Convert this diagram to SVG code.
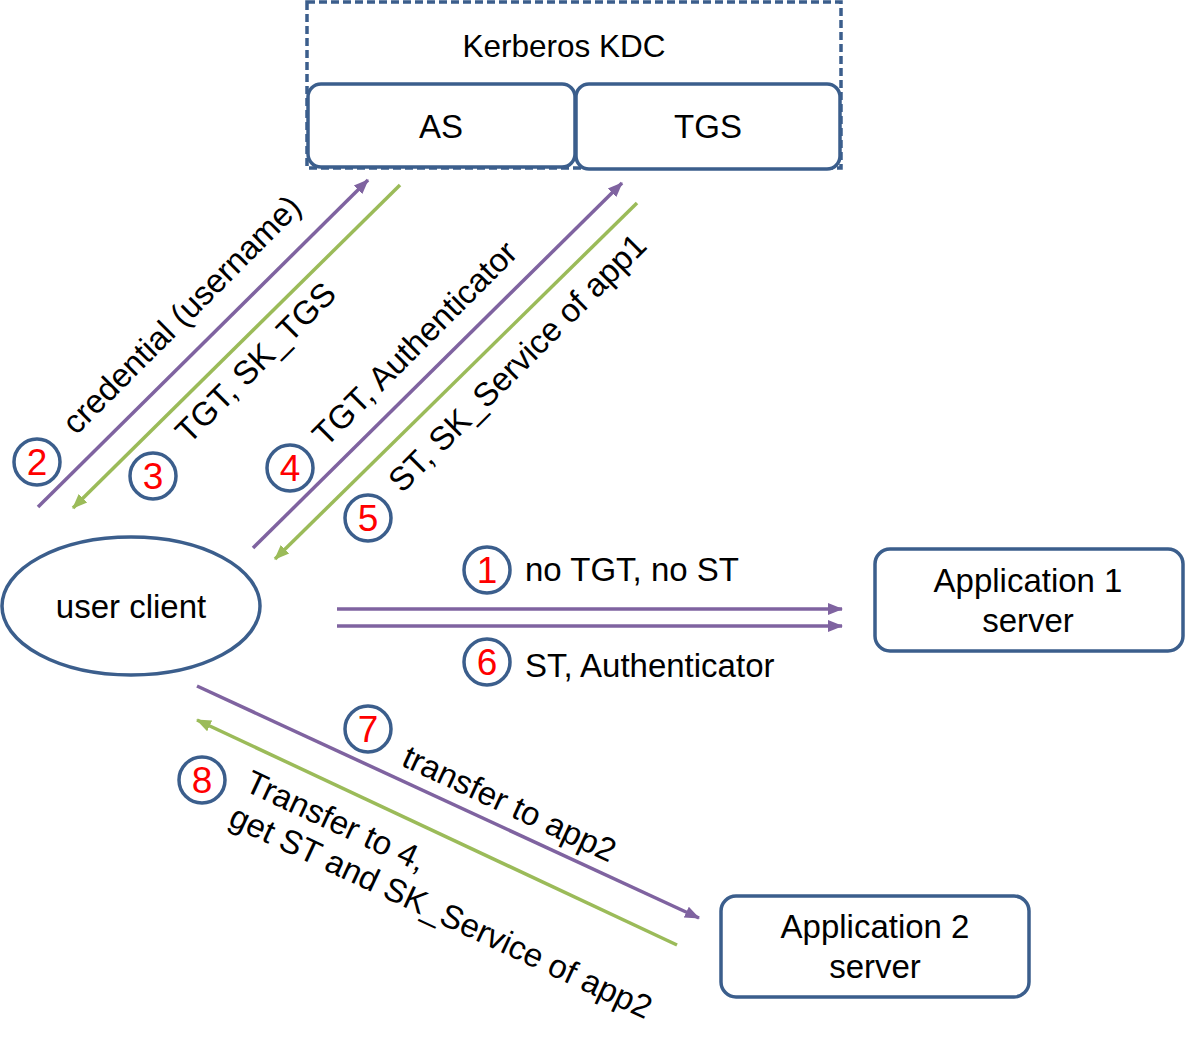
<svg xmlns="http://www.w3.org/2000/svg" width="1185" height="1050" viewBox="0 0 1185 1050">
<style>
text { font-family: "Liberation Sans", Arial, sans-serif; font-size: 33px; fill: #000; }
.box { fill: #fff; stroke: #3B5E8C; stroke-width: 3.5; }
.num-c { fill: #fff; stroke: #3B5E8C; stroke-width: 3.5; }
.num { fill: #FF0000; font-size: 37px; text-anchor: middle; }
.mid { text-anchor: middle; }
.p { stroke: #7F63A0; stroke-width: 3.5; fill: none; }
.g { stroke: #9BBB59; stroke-width: 3.5; fill: none; }
</style>
<defs>
<marker id="ap" markerUnits="userSpaceOnUse" markerWidth="16" markerHeight="14" refX="14" refY="7" orient="auto">
<path d="M0,1 L15,7 L0,13 Z" fill="#7F63A0"/>
</marker>
<marker id="ag" markerUnits="userSpaceOnUse" markerWidth="16" markerHeight="14" refX="14" refY="7" orient="auto">
<path d="M0,1 L15,7 L0,13 Z" fill="#9BBB59"/>
</marker>
</defs>
<rect width="1185" height="1050" fill="#fff"/>

<g id="kdc">
<rect x="307" y="2" width="534" height="166" fill="#fff" stroke="#3B5E8C" stroke-width="3.5" stroke-dasharray="8 4"/>
<text x="564" y="57" class="mid" style="font-size:31.5px">Kerberos KDC</text>
</g>
<g id="as">
<rect class="box" x="308" y="84" width="267" height="83" rx="13"/>
<text x="441" y="138" class="mid">AS</text>
</g>
<g id="tgs">
<rect class="box" x="576" y="84" width="264" height="85" rx="13"/>
<text x="708" y="138" class="mid">TGS</text>
</g>
<g id="client">
<ellipse class="box" cx="131" cy="606" rx="129" ry="69"/>
<text x="131" y="618" class="mid">user client</text>
</g>
<g id="app1">
<rect class="box" x="875" y="549" width="308" height="102" rx="15"/>
<text x="1028" y="592" class="mid">Application 1</text>
<text x="1028" y="632" class="mid">server</text>
</g>
<g id="app2">
<rect class="box" x="721" y="896" width="308" height="101" rx="15"/>
<text x="875" y="938" class="mid">Application 2</text>
<text x="875" y="978" class="mid">server</text>
</g>

<g id="connectors">
<line class="p" x1="38" y1="507" x2="368" y2="180" marker-end="url(#ap)"/>
<line class="g" x1="400" y1="185" x2="73" y2="508" marker-end="url(#ag)"/>
<line class="p" x1="253" y1="548" x2="622" y2="183" marker-end="url(#ap)"/>
<line class="g" x1="637" y1="203" x2="275" y2="559" marker-end="url(#ag)"/>
<line class="p" x1="337" y1="609" x2="842" y2="609" marker-end="url(#ap)"/>
<line class="p" x1="337" y1="626" x2="842" y2="626" marker-end="url(#ap)"/>
<line class="p" x1="197" y1="686" x2="699" y2="918" marker-end="url(#ap)"/>
<line class="g" x1="677" y1="945" x2="197" y2="720" marker-end="url(#ag)"/>
</g>

<g id="labels">
<text transform="translate(76,436) rotate(-45)">credential (username)</text>
<text transform="translate(189,445) rotate(-45)">TGT, SK_TGS</text>
<text transform="translate(326,448) rotate(-45)">TGT, Authenticator</text>
<text transform="translate(402,494) rotate(-45)">ST, SK_Service of app1</text>
<text x="525" y="581">no TGT, no ST</text>
<text x="525" y="677">ST, Authenticator</text>
<text transform="translate(400,765) rotate(25)">transfer to app2</text>
<text transform="translate(243,790) rotate(25)"><tspan x="0" y="0">Transfer to 4,</tspan><tspan x="0" y="38">get ST and SK_Service of app2</tspan></text>
</g>

<g id="step1"><circle class="num-c" cx="487" cy="570" r="23"/><text class="num" x="487" y="583">1</text></g>
<g id="step2"><circle class="num-c" cx="37" cy="462" r="23"/><text class="num" x="37" y="475">2</text></g>
<g id="step3"><circle class="num-c" cx="153" cy="476" r="23"/><text class="num" x="153" y="489">3</text></g>
<g id="step4"><circle class="num-c" cx="290" cy="468" r="23"/><text class="num" x="290" y="481">4</text></g>
<g id="step5"><circle class="num-c" cx="368" cy="518" r="23"/><text class="num" x="368" y="531">5</text></g>
<g id="step6"><circle class="num-c" cx="487" cy="662" r="23"/><text class="num" x="487" y="675">6</text></g>
<g id="step7"><circle class="num-c" cx="368" cy="729" r="23"/><text class="num" x="368" y="742">7</text></g>
<g id="step8"><circle class="num-c" cx="202" cy="780" r="23"/><text class="num" x="202" y="793">8</text></g>
</svg>
